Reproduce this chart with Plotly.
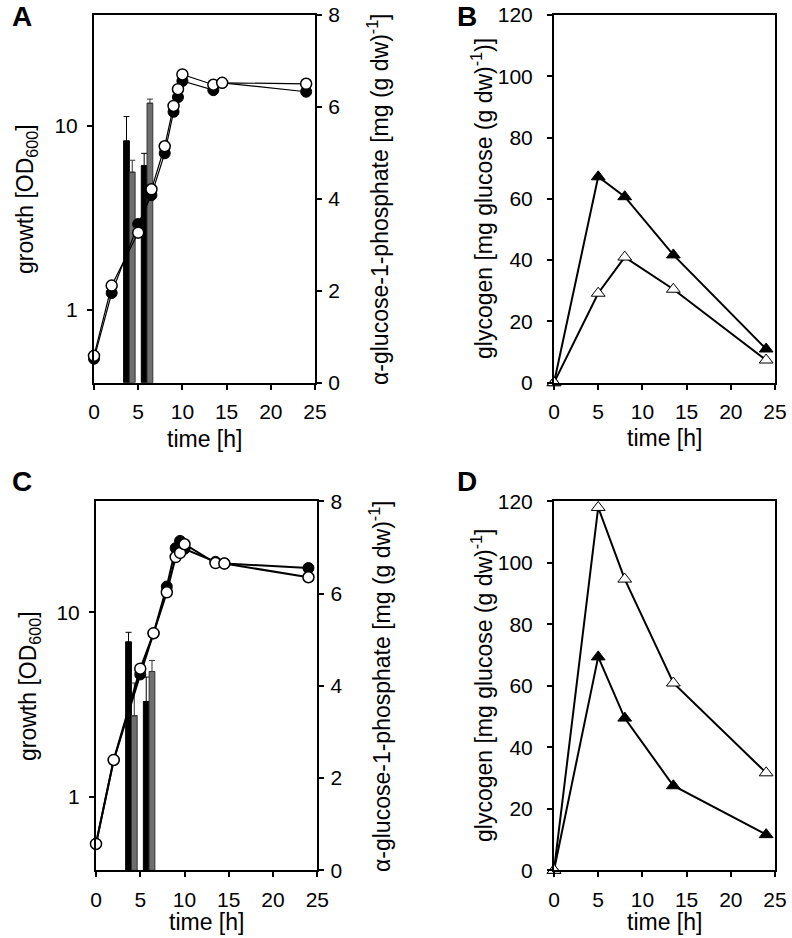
import math
import plotly.graph_objects as go

# ---------------- data ----------------
growth_time = [0, 2, 5, 6.5, 8, 9, 9.5, 10, 13.5, 14.5, 24]
od_filled_A = [0.54, 1.23, 2.92, 4.19, 7.08, 11.9, 14.3, 17.5, 15.6, 17.1, 15.3]
od_open_A = [0.56, 1.35, 2.62, 4.51, 7.73, 12.8, 15.8, 19.0, 16.7, 17.1, 16.9]
od_filled_C = [0.556, 1.585, 4.61, 7.71, 13.8, 22.3, 24.4, 22.1, 18.8, 18.4, 17.4]
od_open_C = [0.556, 1.585, 4.95, 7.71, 12.85, 19.95, 21.0, 23.4, 18.5, 18.4, 15.5]

bar_time = [4, 6]
a1p_black_A = [5.26, 4.72]
a1p_black_A_err = [0.53, 0.27]
a1p_gray_A = [4.58, 6.08]
a1p_gray_A_err = [0.26, 0.09]
a1p_black_C = [4.95, 3.66]
a1p_black_C_err = [0.21, 0.53]
a1p_gray_C = [3.35, 4.31]
a1p_gray_C_err = [0.71, 0.24]

gly_time = [0, 5, 8, 13.5, 24]
gly_filled_B = [0, 67.2, 60.7, 41.7, 11.0]
gly_open_B = [0, 29.2, 41.0, 30.5, 7.4]
gly_filled_D = [0, 69.4, 49.5, 27.5, 11.6]
gly_open_D = [0, 118.0, 94.7, 60.9, 31.7]

x_ticks = [0, 5, 10, 15, 20, 25]
log_ticks = [1, 10]
log_labels = ["1", "10"]
a1p_ticks = [0, 2, 4, 6, 8]
gly_ticks = [0, 20, 40, 60, 80, 100, 120]

# ---------------- layout helpers ----------------
W, H = 792, 938
FONT = "Liberation Sans, Arial, sans-serif"
TICK_SIZE = 21
TITLE_SIZE = 23


def px_x(a, b):
    return [a / W, b / W]


def px_y(top, bottom):
    return [1 - bottom / H, 1 - top / H]


dom_x_A = px_x(94, 315)
dom_x_C = px_x(96, 317.3)
dom_x_BD = px_x(554, 775)
dom_y_top = px_y(15, 382.7)
dom_y_bot = px_y(501.3, 870.3)

fig = go.Figure()

GRAY = "#6f6f6f"


def add_bars(xa, ya, black, black_err, gray, gray_err):
    fig.add_trace(go.Bar(
        x=bar_time, y=black, xaxis=xa, yaxis=ya, width=0.65, offset=-0.65,
        marker=dict(color="black", line=dict(color="black", width=1)),
        error_y=dict(type="data", array=black_err, arrayminus=[0] * len(black_err),
                     symmetric=False, color="black", thickness=1, width=3),
        showlegend=False))
    fig.add_trace(go.Bar(
        x=bar_time, y=gray, xaxis=xa, yaxis=ya, width=0.65, offset=0,
        marker=dict(color=GRAY, line=dict(color="#333333", width=1)),
        error_y=dict(type="data", array=gray_err, arrayminus=[0] * len(gray_err),
                     symmetric=False, color="#333333", thickness=1, width=3),
        showlegend=False))


def add_circles(xa, ya, filled, opened, lw):
    fig.add_trace(go.Scatter(
        x=growth_time, y=filled, xaxis=xa, yaxis=ya, mode="lines+markers",
        line=dict(color="black", width=lw),
        marker=dict(symbol="circle", size=11, color="black", line=dict(color="black", width=1)),
        cliponaxis=False, showlegend=False))
    fig.add_trace(go.Scatter(
        x=growth_time, y=opened, xaxis=xa, yaxis=ya, mode="lines+markers",
        line=dict(color="black", width=lw),
        marker=dict(symbol="circle", size=11, color="white", line=dict(color="black", width=1.5)),
        cliponaxis=False, showlegend=False))


def add_triangles(xa, ya, filled, opened):
    fig.add_trace(go.Scatter(
        x=gly_time, y=filled, xaxis=xa, yaxis=ya, mode="lines+markers",
        line=dict(color="black", width=2),
        marker=dict(symbol="triangle-up", size=12, color="black", line=dict(color="black", width=1)),
        cliponaxis=False, showlegend=False))
    fig.add_trace(go.Scatter(
        x=gly_time, y=opened, xaxis=xa, yaxis=ya, mode="lines+markers",
        line=dict(color="black", width=2),
        marker=dict(symbol="triangle-up", size=12, color="white", line=dict(color="black", width=1)),
        cliponaxis=False, showlegend=False))


# Panel A (bars on right linear axis y, growth on log overlay y2)
add_bars("x", "y", a1p_black_A, a1p_black_A_err, a1p_gray_A, a1p_gray_A_err)
add_circles("x", "y2", od_filled_A, od_open_A, 1.2)
# Panel B
add_triangles("x2", "y3", gly_filled_B, gly_open_B)
# Panel C
add_bars("x3", "y4", a1p_black_C, a1p_black_C_err, a1p_gray_C, a1p_gray_C_err)
add_circles("x3", "y5", od_filled_C, od_open_C, 2)
# Panel D
add_triangles("x4", "y6", gly_filled_D, gly_open_D)

tickfont = dict(family=FONT, size=TICK_SIZE, color="black")
common = dict(showline=True, linecolor="black", linewidth=2, ticks="outside",
              ticklen=5, tickwidth=1.5, tickcolor="black", showgrid=False,
              zeroline=False, tickfont=tickfont, automargin=False, fixedrange=True)


def xax(dom, anchor):
    return dict(domain=dom, anchor=anchor, range=[0, 25], tickvals=x_ticks,
                mirror=True, ticklabelstandoff=4, **common)


log_range = [math.log10(0.4), math.log10(40)]

fig.update_layout(
    width=W, height=H, margin=dict(l=0, r=0, t=0, b=0),
    paper_bgcolor="white", plot_bgcolor="white",
    barmode="overlay", font=dict(family=FONT, size=TITLE_SIZE, color="black"),
    xaxis=xax(dom_x_A, "y"),
    yaxis=dict(domain=dom_y_top, anchor="x", side="right", range=[0, 8],
               tickvals=a1p_ticks, ticklabelstandoff=2, **common),
    yaxis2=dict(overlaying="y", anchor="x", side="left", type="log", range=log_range,
                tickvals=log_ticks, ticktext=log_labels, ticklabelstandoff=5, **common),
    xaxis2=xax(dom_x_BD, "y3"),
    yaxis3=dict(domain=dom_y_top, anchor="x2", range=[0, 120], tickvals=gly_ticks,
                mirror=True, ticklabelstandoff=10, **common),
    xaxis3=xax(dom_x_C, "y4"),
    yaxis4=dict(domain=dom_y_bot, anchor="x3", side="right", range=[0, 8],
                tickvals=a1p_ticks, ticklabelstandoff=2, **common),
    yaxis5=dict(overlaying="y4", anchor="x3", side="left", type="log", range=log_range,
                tickvals=log_ticks, ticktext=log_labels, ticklabelstandoff=5, **common),
    xaxis4=xax(dom_x_BD, "y6"),
    yaxis6=dict(domain=dom_y_bot, anchor="x4", range=[0, 120], tickvals=gly_ticks,
                mirror=True, ticklabelstandoff=10, **common),
)


def ann(text, x, y, size=TITLE_SIZE, angle=0, bold=False, yanchor="middle"):
    fig.add_annotation(text=f"<b>{text}</b>" if bold else text,
                       x=x / W, y=1 - y / H, xref="paper", yref="paper",
                       xanchor="center", yanchor=yanchor, showarrow=False,
                       textangle=angle, font=dict(family=FONT, size=size, color="black"))


# panel letters
ann("A", 22, 17, size=28, bold=True)
ann("B", 467, 17, size=28, bold=True)
ann("C", 22, 482, size=28, bold=True)
ann("D", 467, 482, size=28, bold=True)

# axis titles (x titles anchored at their top edge)
ann("time [h]", 204.5, 424, yanchor="top")
ann("time [h]", 664.5, 423, yanchor="top")
ann("time [h]", 206.5, 907, yanchor="top")
ann("time [h]", 664.5, 907, yanchor="top")
ann("growth [OD<sub>600</sub>]", 27, 199, angle=-90)
ann("growth [OD<sub>600</sub>]", 29, 686, angle=-90)
ann("α-glucose-1-phosphate [mg (g dw)<sup>-1</sup>]", 378, 199, angle=-90)
ann("α-glucose-1-phosphate [mg (g dw)<sup>-1</sup>]", 380, 686, angle=-90)
ann("glycogen [mg glucose (g dw)<sup>-1</sup>)]", 482, 199, angle=-90)
ann("glycogen [mg glucose (g dw)<sup>-1</sup>]", 482, 686, angle=-90)

fig.write_html(
    "out.html",
    config={"displayModeBar": False},
    post_script="document.body.style.margin='0';document.body.style.overflow='hidden';",
)
